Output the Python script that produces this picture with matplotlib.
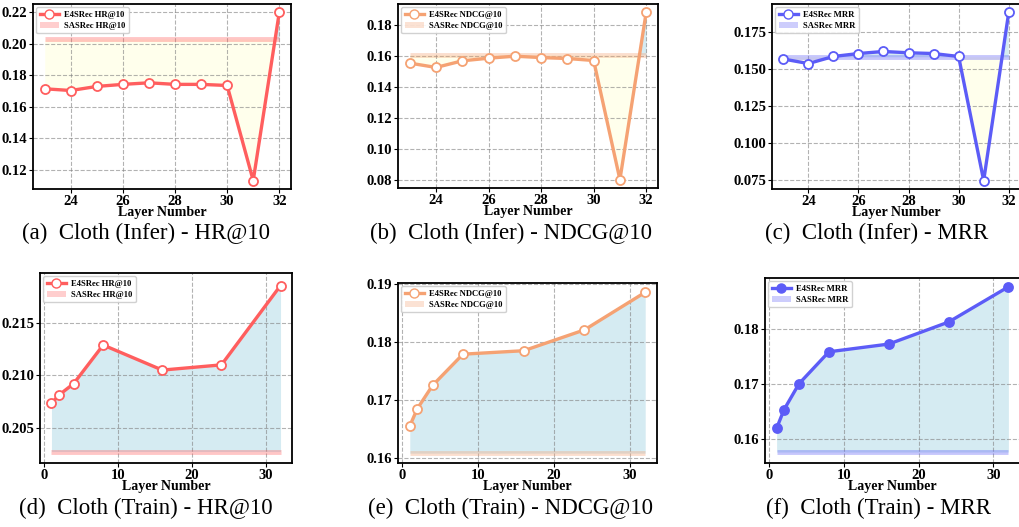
import matplotlib
matplotlib.use("Agg")
import matplotlib.pyplot as plt
from matplotlib.lines import Line2D
from matplotlib.patches import Patch
import numpy as np

plt.rcParams["font.family"] = ["Liberation Serif", "DejaVu Serif"]

# Inference setting: layers 23..32
infer_layers = [23, 24, 25, 26, 27, 28, 29, 30, 31, 32]
infer_hr = [0.1713, 0.1702, 0.1728, 0.1741, 0.1751, 0.1741, 0.1741, 0.1734, 0.1130, 0.2198]
infer_ndcg = [0.1555, 0.1527, 0.1570, 0.1587, 0.1600, 0.1591, 0.1585, 0.1572, 0.0800, 0.1884]
infer_mrr = [0.1568, 0.1537, 0.1585, 0.1605, 0.1619, 0.1610, 0.1605, 0.1585, 0.0743, 0.1884]

# Training setting: layers 1..32
train_layers = [1, 2, 4, 8, 16, 24, 32]
train_hr = [0.2073, 0.2081, 0.2092, 0.2129, 0.2105, 0.2110, 0.2186]
train_ndcg = [0.1655, 0.1685, 0.1725, 0.1779, 0.1785, 0.1821, 0.1886]
train_mrr = [0.1620, 0.1654, 0.1701, 0.1759, 0.1773, 0.1813, 0.1877]

# SASRec baselines
sas_hr_infer, sas_ndcg_infer, sas_mrr_infer = 0.2030, 0.1609, 0.1580
sas_hr_train, sas_ndcg_train, sas_mrr_train = 0.2027, 0.1608, 0.1577

metric_names = ["HR@10", "NDCG@10", "MRR"]
captions = [
    "(a)  Cloth (Infer) - HR@10",
    "(b)  Cloth (Infer) - NDCG@10",
    "(c)  Cloth (Infer) - MRR",
    "(d)  Cloth (Train) - HR@10",
    "(e)  Cloth (Train) - NDCG@10",
    "(f)  Cloth (Train) - MRR",
]

RED = "#FF5E5E"
ORANGE = "#F5A273"
BLUE = "#5C5CF7"
colors = [RED, ORANGE, BLUE]

W, H = 1020, 527
fig = plt.figure(figsize=(W / 100, H / 100), dpi=100)

# axes boxes in pixels: left, top, right, bottom
boxes = [
    (33, 4, 291, 189), (398, 4, 658, 188), (772, 4, 1020, 189),
    (40, 273, 292, 463), (398, 283, 657, 463), (765, 278, 1020, 463),
]
cap_pos = [(146, 233), (511, 233), (877, 233), (146, 508), (511, 508), (878, 508)]
# only set where autoscale does not land on the reference
ylims = [None, None, None, (0.2016, 0.2198), (0.1591, 0.1902), (0.1557, 0.1893)]

panels = [
    (infer_layers, infer_hr, sas_hr_infer),
    (infer_layers, infer_ndcg, sas_ndcg_infer),
    (infer_layers, infer_mrr, sas_mrr_infer),
    (train_layers, train_hr, sas_hr_train),
    (train_layers, train_ndcg, sas_ndcg_train),
    (train_layers, train_mrr, sas_mrr_train),
]

for i, (x, y, base) in enumerate(panels):
    l, t, r, b = boxes[i]
    ax = fig.add_axes([l / W, 1 - b / H, (r - l) / W, (b - t) / H])
    c = colors[i % 3]
    name = metric_names[i % 3]
    x = np.array(x)
    y = np.array(y)
    basel = np.full(len(x), base)

    ax.fill_between(x, y, basel, where=y >= basel, interpolate=True,
                    color="lightblue", alpha=0.5, lw=0)
    ax.fill_between(x, y, basel, where=y < basel, interpolate=True,
                    color="lightyellow", alpha=0.6, lw=0)
    ax.plot(x, basel, color=c, lw=3.5, alpha=0.35, solid_capstyle="butt")
    filled = i == 5
    ax.plot(x, y, color=c, lw=2.4, marker="o", markersize=6.5,
            markerfacecolor=c if filled else "white", markeredgecolor=c,
            markeredgewidth=1.3, zorder=3)

    if ylims[i] is not None:
        ax.set_ylim(*ylims[i])

    ax.grid(True, linestyle="--", color="gray", alpha=0.6, lw=0.8)
    for s in ax.spines.values():
        s.set_linewidth(1.3)
    ax.tick_params(labelsize=10.5, pad=1, length=3)
    for lab in ax.get_xticklabels() + ax.get_yticklabels():
        lab.set_fontweight("bold")
    ax.set_xlabel("Layer Number", fontsize=10, fontweight="bold", labelpad=-1)

    handles = [
        Line2D([0], [0], color=c, lw=2.4, marker="o", markersize=6.5,
               markerfacecolor=c if filled else "white", markeredgecolor=c),
        Patch(facecolor=c, alpha=0.3, edgecolor="none"),
    ]
    ax.legend(handles, ["E4SRec " + name, "SASRec " + name], loc="upper left",
              prop={"weight": "bold", "size": 6.2}, framealpha=0.9,
              handlelength=2.2, handletextpad=0.6, borderpad=0.4,
              labelspacing=0.35, borderaxespad=0.4)

    cx, cy = cap_pos[i]
    fig.text(cx / W, 1 - cy / H, captions[i], ha="center", va="center", fontsize=16.5)

fig.savefig("out.png", dpi=100)
